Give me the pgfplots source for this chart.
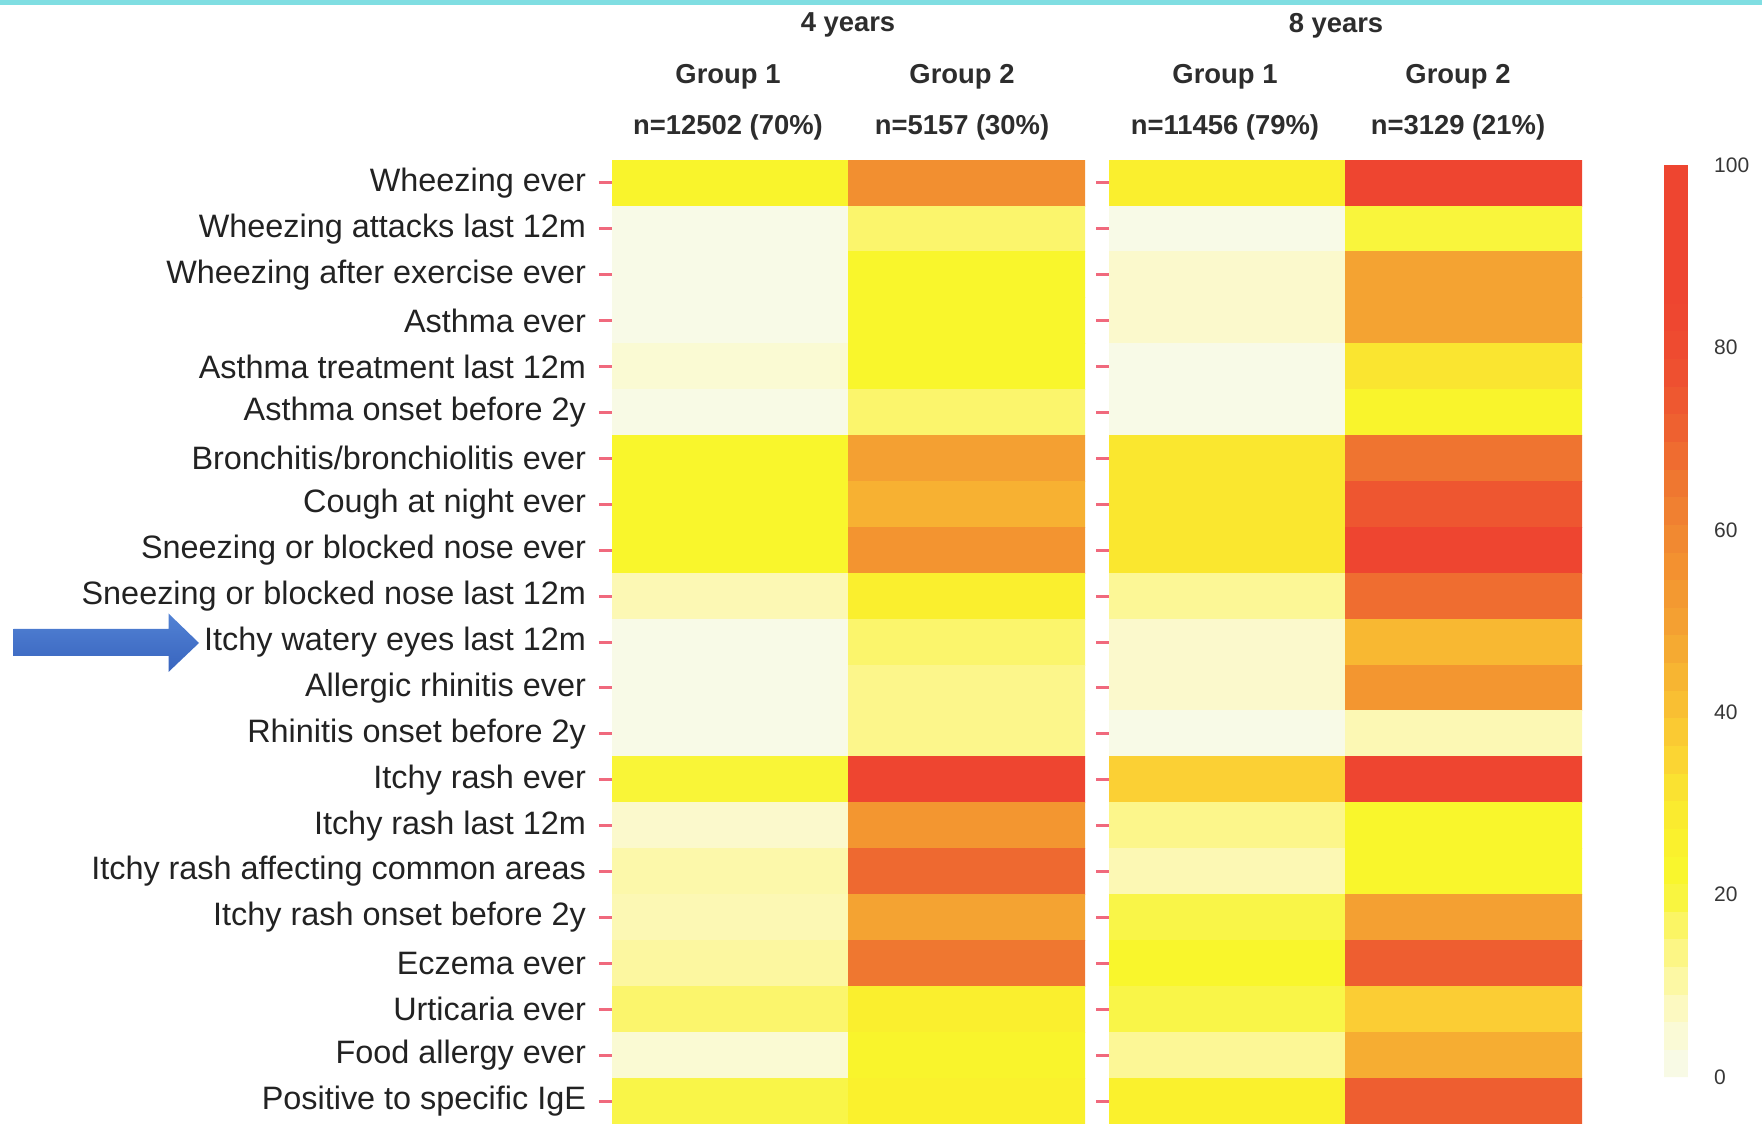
\documentclass[border=0pt]{standalone}
\usepackage{fontspec}
\setmainfont{Liberation Sans}
\usepackage{pgfplots}
\pgfplotsset{compat=1.18}
\usepackage{pgfplotstable}

\definecolor{txt}{RGB}{34,34,34}
\definecolor{hdtxt}{RGB}{45,45,45}
\definecolor{cbtxt}{RGB}{55,55,55}
\definecolor{tickred}{RGB}{240,105,125}
\definecolor{topline}{RGB}{128,222,226}
\definecolor{arrowtop}{RGB}{82,130,212}
\definecolor{arrowbot}{RGB}{56,100,190}

\pgfplotsset{
  colormap={heat}{
    rgb255(0pt)=(247,250,236)
    rgb255(4pt)=(250,250,218)
    rgb255(8pt)=(252,249,190)
    rgb255(12pt)=(252,247,150)
    rgb255(16pt)=(251,245,108)
    rgb255(20pt)=(249,245,60)
    rgb255(23pt)=(249,246,44)
    rgb255(27pt)=(250,239,46)
    rgb255(31pt)=(250,229,48)
    rgb255(36pt)=(251,208,52)
    rgb255(43pt)=(248,184,50)
    rgb255(49pt)=(244,163,50)
    rgb255(55pt)=(243,148,48)
    rgb255(60pt)=(241,135,49)
    rgb255(66pt)=(239,116,48)
    rgb255(72pt)=(238,94,48)
    rgb255(78pt)=(238,78,48)
    rgb255(85pt)=(238,69,48)
    rgb255(100pt)=(238,69,48)
  },
  hm/.style={
    scale only axis, width=236.5pt, height=482pt,
    xmin=-0.5, xmax=1.5, ymin=-0.5, ymax=20.5, y dir=reverse,
    enlargelimits=false,
    xtick=\empty, ytick={0,...,20}, ytick pos=left,
    tick align=outside, major tick length=6.5pt,
    ytick style={draw=tickred, line width=1.5pt},
    axis line style={draw=none},
    colormap name=heat, point meta min=0, point meta max=100,
  }
}

% columns: x = group (0 = Group 1, 1 = Group 2), y = row (0 = top)
\pgfplotstableread{
x y c
0 0 24
1 0 57
0 1 1
1 1 16
0 2 1
1 2 23
0 3 1
1 3 23
0 4 5
1 4 23
0 5 1.5
1 5 16
0 6 23
1 6 50
0 7 23
1 7 45
0 8 23
1 8 55
0 9 9
1 9 27
0 10 1
1 10 16
0 11 1
1 11 13
0 12 1
1 12 13
0 13 21
1 13 85
0 14 6
1 14 54
0 15 10
1 15 69
0 16 9
1 16 49
0 17 11
1 17 65
0 18 16
1 18 27
0 19 5
1 19 24
0 20 19
1 20 26
}\fouryears

\pgfplotstableread{
x y c
0 0 27
1 0 85
0 1 1
1 1 20
0 2 6
1 2 49
0 3 6
1 3 49
0 4 1
1 4 31
0 5 1
1 5 24
0 6 30
1 6 66
0 7 30
1 7 75
0 8 30
1 8 85
0 9 12
1 9 68
0 10 6
1 10 43
0 11 6
1 11 54
0 12 1
1 12 9
0 13 36
1 13 85
0 14 13
1 14 23
0 15 9
1 15 23
0 16 19
1 16 50
0 17 23
1 17 72
0 18 19
1 18 37
0 19 12
1 19 46
0 20 26
1 20 72
}\eightyears

\begin{document}
\begin{tikzpicture}
\useasboundingbox (0,0) rectangle (881pt,562pt);
\fill[topline] (0,559.5pt) rectangle (881pt,562pt);

\begin{axis}[hm,
  at={(306pt,0pt)}, anchor=south west,
  yticklabels={Wheezing ever, Wheezing attacks last 12m, Wheezing after exercise ever,
    Asthma ever, Asthma treatment last 12m, Asthma onset before 2y,
    Bronchitis/bronchiolitis ever, Cough at night ever, Sneezing or blocked nose ever,
    Sneezing or blocked nose last 12m, Itchy watery eyes last 12m, Allergic rhinitis ever,
    Rhinitis onset before 2y, Itchy rash ever, Itchy rash last 12m,
    Itchy rash affecting common areas, Itchy rash onset before 2y, Eczema ever,
    Urticaria ever, Food allergy ever, Positive to specific IgE},
  yticklabel style={font=\fontsize{16.2}{19}\selectfont, text=txt, xshift=-3pt},
]
\addplot[matrix plot*, mesh/cols=2, point meta=explicit] table[x=x, y=y, meta=c]{\fouryears};
\end{axis}

\begin{axis}[hm,
  at={(554.5pt,0pt)}, anchor=south west,
  yticklabel={\mbox{}},
  colorbar sampled,
  colorbar style={
    at={(parent axis.north east)}, anchor=north west,
    xshift=32.5pt, yshift=-2.5pt,
    scale only axis, width=12pt, height=456pt,
    y dir=normal,
    samples=34,
    axis line style={draw=none},
    ytick={0,20,...,100}, major tick length=0pt,
    yticklabel style={font=\fontsize{10.5}{12}\selectfont, text=cbtxt, xshift=9.5pt},
    /pgf/number format/assume math mode=true,
  },
]
\addplot[matrix plot*, mesh/cols=2, point meta=explicit] table[x=x, y=y, meta=c]{\eightyears};
\end{axis}

% column headers
\begin{scope}[every node/.style={font=\bfseries\fontsize{13.7}{16}\selectfont, text=hdtxt}]
\node at (424pt,549.3pt) {4 years};
\node at (668pt,549.3pt) {8 years};
\node at (364pt,523.8pt) {Group 1};
\node at (481pt,523.8pt) {Group 2};
\node at (612.5pt,523.8pt) {Group 1};
\node at (729pt,523.8pt) {Group 2};
\node at (364pt,498.3pt) {n=12502 (70\%)};
\node at (481pt,498.3pt) {n=5157 (30\%)};
\node at (612.5pt,498.3pt) {n=11456 (79\%)};
\node at (729pt,498.3pt) {n=3129 (21\%)};
\end{scope}

% highlight arrow
\shade[top color=arrowtop, bottom color=arrowbot]
  (6.75pt,247.5pt) -- (84.25pt,247.5pt) -- (84.25pt,255.25pt) -- (99.5pt,240.5pt)
  -- (84.25pt,226pt) -- (84.25pt,234pt) -- (6.75pt,234pt) -- cycle;
\end{tikzpicture}
\end{document}
